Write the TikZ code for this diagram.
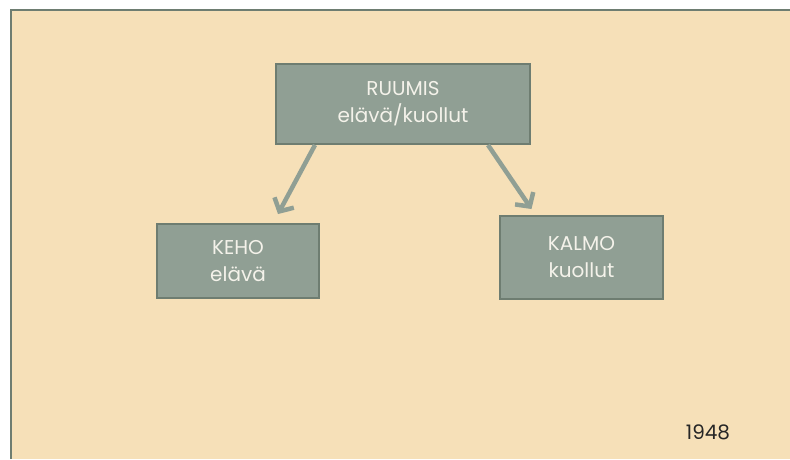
\documentclass[tikz,border=0pt]{standalone}
\usepackage{fontspec}
\setmainfont{Poppins}
\usetikzlibrary{arrows.meta}

\definecolor{slidebg}{HTML}{F6E0B8}
\definecolor{boxfill}{HTML}{909F94}
\definecolor{boxline}{HTML}{6E7D71}
\definecolor{boxtext}{HTML}{F4F2EA}

\tikzset{
    box/.style = {draw = boxline, line width = 2pt, fill = boxfill,
        text = boxtext, align = center, font = \fontsize{20}{27}\selectfont},
    link/.style = {draw = boxfill, line width = 4.5pt,
        -{Straight Barb[length = 10pt, width = 22pt]}}
}

\begin{document}
\begin{tikzpicture}[x = 1pt, y = -1pt]
        \useasboundingbox (0, 0) rectangle (790, 459);
        \fill[slidebg] (11, 10) rectangle (790, 459);
        \draw[boxline, line width = 2.5pt] (11, 459) -- (11, 10) -- (790, 10);

        \node[box, minimum width = 254pt, minimum height = 80pt] (ruumis) at (403, 104) {RUUMIS\\elävä/kuollut};
        \node[box, minimum width = 162pt, minimum height = 74pt] (keho) at (238, 261) {KEHO\\elävä};
        \node[box, minimum width = 163pt, minimum height = 83pt] (kalmo) at (581.5, 257.5) {KALMO\\kuollut};

        \draw[link] ([xshift = 40pt] ruumis.south west) -- ([xshift = 40pt, yshift = 9pt] keho.north);
        \draw[link] ([xshift = -43pt] ruumis.south east) -- ([xshift = -50pt, yshift = 6pt] kalmo.north);

        \node[text = black!85, font = \fontsize{20}{24}\selectfont] (year) at (708, 432) {1948};
    \end{tikzpicture}
\end{document}
